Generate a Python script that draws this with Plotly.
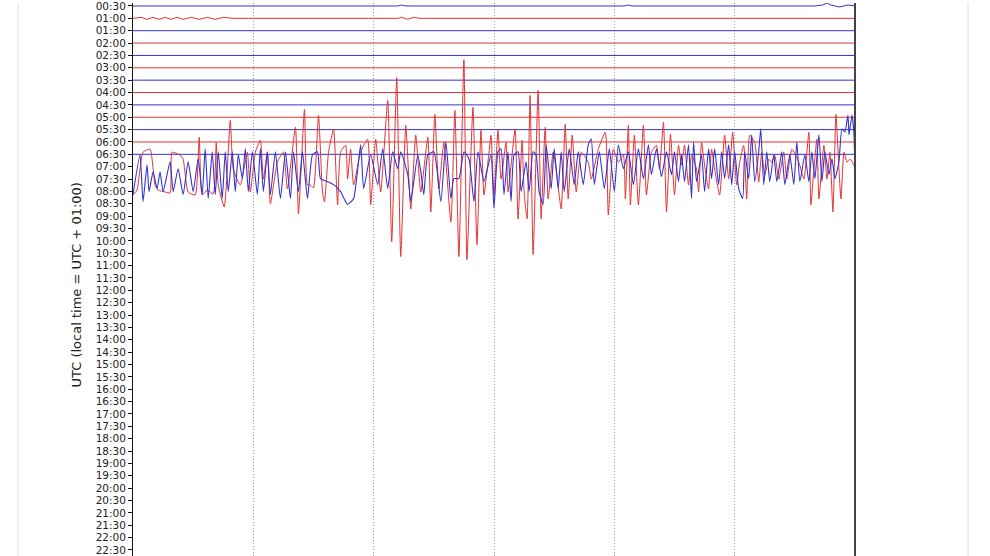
import plotly.graph_objects as go

# ---- axis labels (half-hour rows of the helicorder) ----
row_hours = [h / 2 for h in range(1, 46)]            # 00:30 ... 22:30
row_labels = ["%02d:%02d" % (int(h), int(round((h % 1) * 60))) for h in row_hours]

# ---- quiet rows: (row hour, colour) ----
quiet_rows = [
    (0.5, "blue"), (1.0, "red"), (1.5, "blue"), (2.0, "red"), (2.5, "blue"),
    (3.0, "red"), (3.5, "blue"), (4.0, "red"), (4.5, "blue"), (5.0, "red"),
    (5.5, "blue"), (6.0, "red"), (6.5, "blue"),
]
# small wiggles on the quiet rows (seconds, amplitude)
row_0030_samples = [(0, 0), (600, 0), (1320, 0), (1340, 1), (1360, 0), (2450, 0), (2470, 1), (2490, 0),
                    (3400, 0), (3440, 1), (3460, 3), (3480, 1), (3500, 0), (3520, -1), (3545, 0),
                    (3565, 1), (3600, 0)]
row_0100_samples = [(0, 0), (40, 1), (70, -1), (100, 1), (130, -1), (160, 1), (190, -1), (220, 1),
                    (250, -1), (290, 1), (330, -1), (370, 1), (410, -1), (450, 1), (500, 0),
                    (600, 0), (1320, 0), (1340, 1), (1370, -1), (1400, 1), (1430, 0), (3600, 0)]

# ---- active traces: (seconds into the hour, amplitude) ----
blue_row = 7.0
blue_samples = [
    (0, -28), (35, 12), (50, -35), (70, 2), (80, -25), (100, -5), (120, -22), (135, -5), (150, -25),
    (185, 5), (200, -25), (225, -2), (250, -28), (275, 5), (300, -25), (325, 8), (345, -28), (360, 18),
    (375, -32), (395, 15), (410, -28), (425, 15), (445, -32), (460, 15), (475, -25), (495, 15),
    (510, -25), (525, 12), (545, -12), (560, 18), (575, -25), (595, 15), (620, -28), (635, 18),
    (650, -25), (670, 15), (685, -28), (710, 15), (735, -32), (760, 15), (785, -32), (800, 15),
    (825, -25), (845, 15), (870, -32), (895, 12), (920, 15), (935, -12), (970, -15), (1000, -18),
    (1035, -25), (1070, -38), (1100, -32), (1135, 22), (1150, -22), (1185, 12), (1220, -18),
    (1245, 18), (1270, -22), (1295, 15), (1320, -2), (1335, 15), (1370, -8), (1385, -35), (1420, 12),
    (1435, -5), (1450, -28), (1470, 12), (1500, 15), (1535, -35), (1560, 25), (1585, -32), (1600, -12),
    (1625, -12), (1650, 15), (1675, 8), (1700, -35), (1720, 15), (1750, -15), (1785, 12), (1800, -42),
    (1820, 15), (1835, 18), (1850, -28), (1870, 15), (1885, -35), (1900, 12), (1920, 15), (1935, -25),
    (1960, 5), (1975, -25), (1995, 15), (2010, 12), (2025, -25), (2045, -38), (2060, 22), (2085, -22),
    (2100, 18), (2120, -22), (2135, 15), (2150, -25), (2175, 18), (2200, -18), (2220, 15), (2245, -18),
    (2270, 22), (2285, 28), (2300, -18), (2325, 15), (2350, -22), (2375, 18), (2400, -25), (2420, 22),
    (2445, -2), (2470, 15), (2495, -18), (2520, 18), (2545, -12), (2570, 22), (2585, -8), (2610, 18),
    (2635, -10), (2660, 15), (2685, -8), (2700, 15), (2720, -15), (2735, 12), (2750, -15), (2770, 22),
    (2785, -32), (2795, 25), (2810, -15), (2835, 12), (2850, -25), (2870, 18), (2885, -12), (2900, 18),
    (2920, -18), (2935, 15), (2950, -12), (2970, 22), (2985, -18), (3000, 15), (3020, -22), (3040, -32),
    (3050, 15), (3070, -12), (3085, 32), (3100, -15), (3120, 15), (3130, 38), (3145, -18), (3160, 15),
    (3175, -15), (3195, 12), (3210, -15), (3235, 15), (3250, -18), (3275, 12), (3295, -18), (3310, 25),
    (3325, -15), (3350, 12), (3370, -15), (3385, 15), (3400, -12), (3420, 32), (3435, -15), (3450, 15),
    (3470, -8), (3485, 8), (3500, -12), (3520, 5), (3535, 38), (3550, 35), (3565, 52), (3570, 32),
    (3585, 52), (3595, 32), (3600, -18),
]

red_row = 7.5
red_samples = [
    (0, -16), (20, -11), (50, 27), (85, 30), (110, -6), (125, -11), (160, -13), (185, -14), (195, 27),
    (235, 24), (250, 20), (275, -13), (310, -16), (330, 42), (345, -16), (370, -11), (400, -15),
    (415, 37), (425, -6), (455, -28), (485, 59), (500, 10), (535, -6), (570, 27), (585, -13), (610, 27),
    (635, 39), (650, 0), (670, 27), (685, -25), (720, 17), (750, 27), (770, -10), (810, 52), (825, -35),
    (855, 70), (870, -6), (885, -6), (900, -9), (925, 64), (945, -13), (955, -23), (975, 27), (1000, 50),
    (1020, -26), (1035, 27), (1060, 34), (1070, 0), (1085, 30), (1100, -6), (1135, 27), (1170, 40),
    (1185, -26), (1210, 40), (1235, -13), (1270, 79), (1290, -63), (1315, 102), (1335, -78), (1360, 54),
    (1385, -30), (1410, 44), (1435, -13), (1470, 42), (1485, -33), (1505, 65), (1525, -10), (1550, 37),
    (1585, -43), (1605, 69), (1625, -78), (1650, 120), (1665, -81), (1695, 72), (1715, -66), (1735, 49),
    (1750, -16), (1775, 27), (1785, 44), (1800, -16), (1820, 49), (1835, 0), (1860, 37), (1870, -13),
    (1905, 50), (1920, -40), (1940, 39), (1950, -13), (1965, -40), (1980, 84), (1995, -76), (2020, 89),
    (2035, -40), (2055, 52), (2070, -20), (2095, 27), (2110, 10), (2135, -30), (2155, 55), (2170, -20),
    (2190, 44), (2210, -13), (2235, 27), (2270, 17), (2285, 0), (2320, 30), (2355, 47), (2370, -36),
    (2395, 30), (2420, 17), (2445, 24), (2455, -20), (2470, 54), (2480, -26), (2500, 44), (2520, -26),
    (2545, 54), (2560, -16), (2585, 27), (2610, 34), (2625, 10), (2645, 57), (2660, -33), (2680, 45),
    (2700, -16), (2720, 34), (2735, 14), (2750, 34), (2770, -6), (2785, 24), (2810, 10), (2820, -13),
    (2835, 37), (2850, 14), (2870, -10), (2885, 30), (2900, 10), (2925, -16), (2950, 44), (2970, 0),
    (2990, 47), (3010, -6), (3025, 17), (3045, 34), (3060, -20), (3075, 44), (3100, 37), (3120, -3),
    (3135, 27), (3150, 4), (3170, 20), (3185, 17), (3200, 24), (3220, 0), (3245, 27), (3260, 0),
    (3285, 30), (3320, 17), (3345, 0), (3370, 47), (3380, -26), (3395, 10), (3410, 40), (3420, -20),
    (3445, 34), (3460, 0), (3475, 27), (3490, -33), (3505, 65), (3520, 10), (3530, -20), (3545, 27),
    (3560, 17), (3575, 20), (3595, 14), (3600, -10),
]

# ---- styling ----
COLORS = {"blue": "rgb(50,50,210)", "red": "rgb(228,50,50)"}
AMP_SCALE = 0.5 / 12.43     # hours of vertical offset per amplitude unit

fig = go.Figure()


def add_trace(samples, row, colour, width=1.0, shape="linear"):
    t = [s[0] for s in samples]
    y = [row - s[1] * AMP_SCALE for s in samples]
    fig.add_trace(go.Scatter(x=t, y=y, mode="lines",
                             line=dict(color=COLORS[colour], width=width, shape=shape,
                                       smoothing=0.5 if shape == "spline" else None),
                             hoverinfo="skip", showlegend=False))


for hour, colour in quiet_rows:
    if hour == 0.5:
        add_trace(row_0030_samples, hour, colour)
    elif hour == 1.0:
        add_trace(row_0100_samples, hour, colour)
    else:
        add_trace([(0, 0), (3600, 0)], hour, colour)

add_trace(red_samples, red_row, "red", 1.0, "spline")
add_trace(blue_samples, blue_row, "blue", 1.1, "spline")

W, H = 990, 556
L, R = 133, 855
fig.update_layout(
    width=W, height=H,
    margin=dict(l=L, r=W - R, t=0, b=0, pad=0),
    paper_bgcolor="white", plot_bgcolor="white",
    font=dict(family="DejaVu Sans", color="#222"),
    showlegend=False,
)
fig.update_xaxes(range=[0, 3600], tickvals=[600, 1200, 1800, 2400, 3000],
                 showticklabels=False, ticks="", showgrid=True,
                 gridcolor="#9a9a9a", griddash="1px,2px", gridwidth=1,
                 zeroline=False, showline=False)
fig.update_yaxes(range=[22.744, 0.3793], tickvals=row_hours, ticktext=row_labels,
                 ticks="outside", ticklen=4, tickcolor="#111", tickwidth=1,
                 tickfont=dict(size=10.5, color="#222", family="DejaVu Sans"),
                 ticklabeloverflow="allow",
                 showgrid=False, zeroline=False, showline=True,
                 linecolor="#111", linewidth=1)

# right spine
fig.add_shape(type="line", xref="paper", yref="paper", x0=1, x1=1, y0=0, y1=1,
              line=dict(color="#444", width=2))
# faint panel borders
for px in (18, 968):
    fig.add_shape(type="line", xref="paper", yref="paper",
                  x0=(px - L) / (R - L), x1=(px - L) / (R - L), y0=0, y1=1,
                  line=dict(color="#dcdcdc", width=1))

fig.add_annotation(text="UTC (local time = UTC + 01:00)", textangle=-90,
                   xref="paper", yref="paper", x=(76 - L) / (R - L), y=1 - 284 / H,
                   xanchor="center", yanchor="middle", showarrow=False,
                   font=dict(size=13, color="#222", family="DejaVu Sans"))

fig.write_html("out.html", config={"displayModeBar": False})

# remove the browser's default page margin so the figure sits at the window's corner
with open("out.html", encoding="utf-8") as f:
    html = f.read()
html = html.replace("<head>", "<head><style>html,body{margin:0;padding:0;overflow:hidden;}</style>", 1)
with open("out.html", "w", encoding="utf-8") as f:
    f.write(html)
